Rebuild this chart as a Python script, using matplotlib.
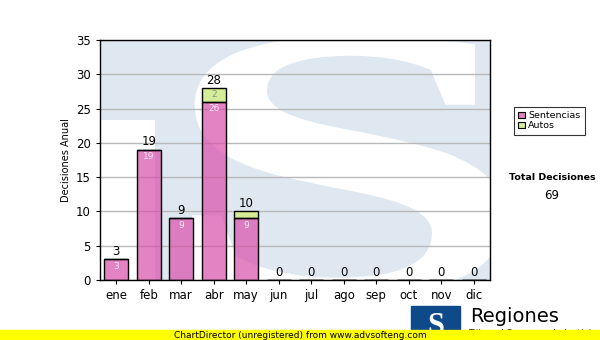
import numpy as np
import matplotlib.pyplot as plt
from matplotlib.patches import Rectangle, PathPatch
from matplotlib.textpath import TextPath
from matplotlib.font_manager import FontProperties
from matplotlib.transforms import Affine2D

# data
meses = ['ene', 'feb', 'mar', 'abr', 'may', 'jun', 'jul', 'ago', 'sep', 'oct', 'nov', 'dic']
sentencias = [3, 19, 9, 26, 9, 0, 0, 0, 0, 0, 0, 0]
autos = [0, 0, 0, 2, 1, 0, 0, 0, 0, 0, 0, 0]
total_decisiones = 69

c_sent = '#d94fab'
c_auto = '#d4ec94'
c_wm = '#dfe8f1'

W, H = 600, 340
fig = plt.figure(figsize=(6, 3.4), dpi=100)
ax = fig.add_axes([100/W, 60/H, 390/W, 240/H])
ax.set_facecolor(c_wm)

x = np.arange(len(meses))
sent = np.array(sentencias)
aut = np.array(autos)
tot = sent + aut

# watermark: white left block + white S over light blue
ax.add_patch(Rectangle((100/W, 60/H), 55/W, 160/H, transform=fig.transFigure,
                       color='white', lw=0, zorder=0))
tp = TextPath((0, 0), 'S', size=1, prop=FontProperties(family='Liberation Serif', weight='bold'))
ext = tp.get_extents()
x0, x1, ytop, ybot = 192, 505, 36, 297
tr = (Affine2D().translate(-ext.x0, -ext.y0)
      .scale((x1 - x0) / ext.width / W, (ybot - ytop) / ext.height / H)
      .translate(x0 / W, 1 - ybot / H)) + fig.transFigure
ax.add_patch(PathPatch(tp, transform=tr, color='white', lw=0, zorder=0))

ax.set_ylim(0, 35)
ax.set_xlim(-0.5, 11.5)
ax.set_yticks(range(0, 36, 5))
ax.yaxis.grid(True, color='#b8b8b8', lw=1, zorder=1)
ax.set_axisbelow(True)

w = 0.74
ax.bar(x, sent, w, color=c_sent, alpha=0.7, edgecolor='none', zorder=2)
ax.bar(x, aut, w, bottom=sent, color=c_auto, edgecolor='none', zorder=2)
ax.bar(x, sent, w, fill=False, edgecolor='black', lw=1, zorder=2.5)
ax.bar(x, aut, w, bottom=sent, fill=False, edgecolor='black', lw=1, zorder=2.5)

for i in range(len(meses)):
    ax.text(x[i], tot[i] + 0.2, str(tot[i]), ha='center', va='bottom', fontsize=8.5, color='black', zorder=3)
    if sent[i] > 0:
        ax.text(x[i], sent[i] - 0.4, str(sent[i]), ha='center', va='top', fontsize=6.5, color='#f4e8f0', zorder=3)
    if aut[i] > 1:
        ax.text(x[i], sent[i] + aut[i] / 2, str(aut[i]), ha='center', va='center', fontsize=6.5, color='#909090', zorder=3)

ax.set_xticks(x)
ax.set_xticklabels(meses)
ax.tick_params(labelsize=8.5, length=3, color='black')
ax.set_ylabel('Decisiones Anual', fontsize=7, labelpad=4)
for s in ax.spines.values():
    s.set_linewidth(1)

# legend handles
h1 = Rectangle((0, 0), 1, 1, facecolor='#e080bf', edgecolor='black', lw=0.8)
h2 = Rectangle((0, 0), 1, 1, facecolor=c_auto, edgecolor='black', lw=0.8)
leg = fig.legend([h1, h2], ['Sentencias', 'Autos'], loc='upper left',
                 bbox_to_anchor=(509/W, 1 - 102/H), fontsize=6.8,
                 frameon=True, fancybox=False, edgecolor='black', handlelength=0.7,
                 handleheight=0.7, handletextpad=0.3, borderpad=0.5, labelspacing=0.1)
leg.get_frame().set_linewidth(0.8)

fig.text(552/W, 1 - 178/H, 'Total Decisiones', ha='center', va='center', fontsize=6.8, fontweight='bold')
fig.text(552/W, 1 - 196/H, str(total_decisiones), ha='center', va='center', fontsize=8.5)

# footer: logo + yellow bar
fig.patches.append(Rectangle((411/W, 0), 49/W, 34/H, transform=fig.transFigure,
                             color='#0e4a8a', zorder=1))
fig.text(436/W, 14/H, 'S', ha='center', va='center', fontsize=22, fontweight='bold',
         family='Liberation Serif', color='white', zorder=2)
fig.text(470/W, 1 - 316/H, 'Regiones', ha='left', va='center', fontsize=14, zorder=2)
fig.text(468/W, 1 - 333/H, 'Tribunal Supremo de Justicia', ha='left', va='center', fontsize=6.5, zorder=1)
fig.patches.append(Rectangle((0, 0), 1, 10/H, transform=fig.transFigure,
                             color='#ffff00', zorder=3))
fig.text(300/W, 5/H, 'ChartDirector (unregistered) from www.advsofteng.com', ha='center', va='center',
         fontsize=6.5, zorder=4)

fig.savefig('out.png', dpi=100)
